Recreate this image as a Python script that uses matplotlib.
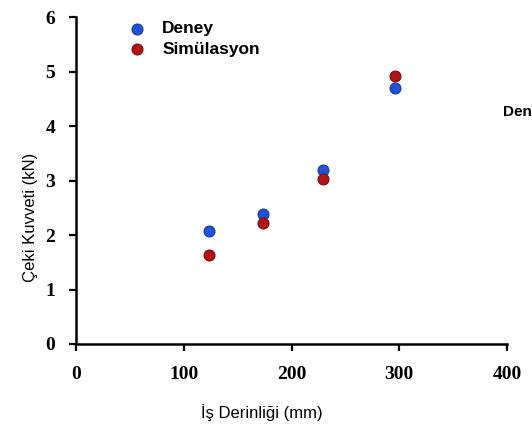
import matplotlib
matplotlib.use("Agg")
import matplotlib.pyplot as plt

# İş derinliği (mm) ve çeki kuvveti (kN)
depth_deney = [123, 174, 229, 296]
force_deney = [2.07, 2.39, 3.19, 4.70]
depth_sim = [123, 174, 229, 296]
force_sim = [1.64, 2.22, 3.02, 4.92]

x_ticks = [0, 100, 200, 300, 400]
y_ticks = [0, 1, 2, 3, 4, 5, 6]

BLUE = "#1f52d6"
RED = "#b01414"

W, H = 532, 429
fig = plt.figure(figsize=(W / 100, H / 100), dpi=100)
ax = fig.add_axes([76 / W, (H - 344) / H, (507 - 76) / W, (344 - 17) / H])

ax.scatter(depth_deney, force_deney, s=62, color=BLUE, edgecolors="#173c9e",
           linewidths=0.8, zorder=3, label="Deney")
ax.scatter(depth_sim, force_sim, s=62, color=RED, edgecolors="#7d0d0d",
           linewidths=0.8, zorder=3, label="Simülasyon")

ax.set_xlim(0, 400)
ax.set_ylim(0, 6)
ax.set_xticks(x_ticks)
ax.set_yticks(y_ticks)
for side in ("top", "right"):
    ax.spines[side].set_visible(False)
for side in ("left", "bottom"):
    ax.spines[side].set_linewidth(1.8)
ax.tick_params(direction="out", length=5, width=1.6)
for lab in ax.get_xticklabels() + ax.get_yticklabels():
    lab.set_fontfamily("Liberation Serif")
    lab.set_fontweight("bold")
    lab.set_fontsize(14)
ax.tick_params(axis="x", pad=11)
ax.tick_params(axis="y", pad=10)

leg = ax.legend(loc="upper left", bbox_to_anchor=(0.065, 1.035), frameon=False,
                prop={"family": "Liberation Sans", "weight": "bold", "size": 12.5},
                handletextpad=0.45, labelspacing=0.3, markerscale=1.0)

fig.text(262 / W, 1 - 413 / H, "İş Derinliği (mm)", ha="center", va="center",
         fontsize=12, family="Liberation Sans")
fig.text(30 / W, 1 - 217 / H, "Çeki Kuvveti (kN)", ha="center", va="center",
         rotation=90, fontsize=12, family="Liberation Sans")
fig.text(503 / W, 1 - 112 / H, "Den", ha="left", va="center",
         fontsize=11, fontweight="bold", family="Liberation Sans")

fig.savefig("out.png", dpi=100)
